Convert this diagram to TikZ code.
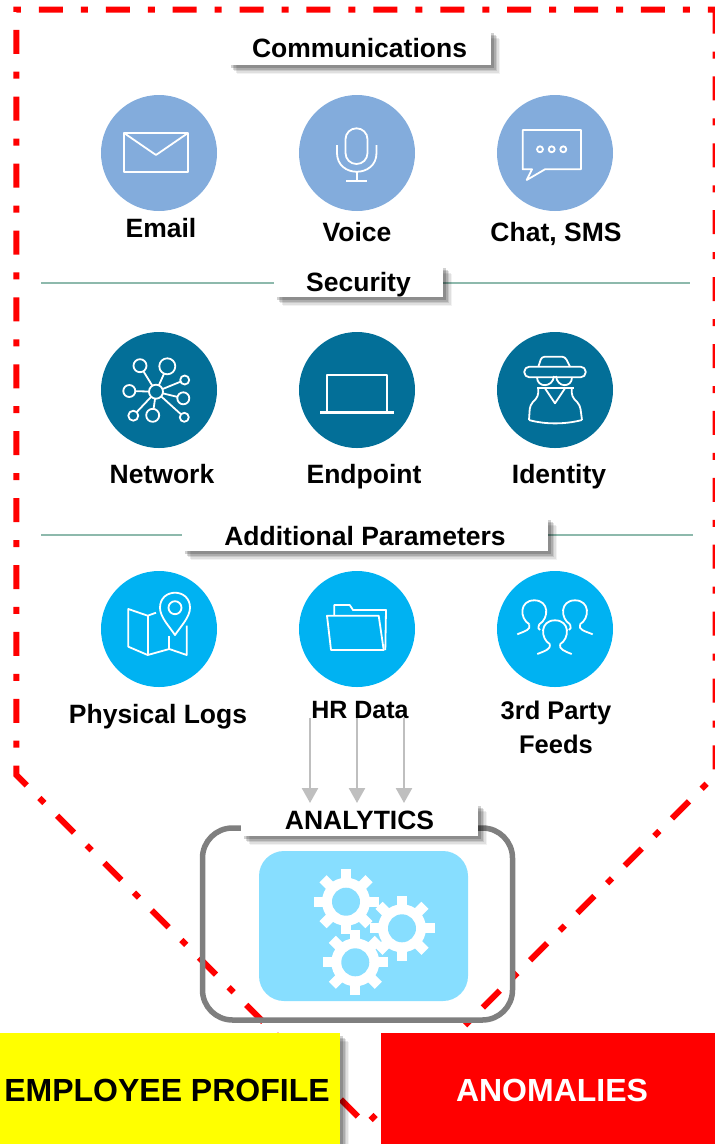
\documentclass[tikz,border=0pt]{standalone}
\usepackage{fontspec}
\setmainfont{Liberation Sans}
\usepackage{xcolor}
\usepackage{tikz}
\usetikzlibrary{arrows.meta, positioning, shadows}
\definecolor{commblue}{HTML}{83ACDC}
\definecolor{secblue}{HTML}{036F98}
\definecolor{addblue}{HTML}{00B2F2}
\definecolor{panelblue}{HTML}{87DEFF}
\definecolor{rulegreen}{HTML}{8DB9AC}
\definecolor{boxgray}{HTML}{7F7F7F}
\definecolor{arrowgray}{HTML}{BFBFBF}
\definecolor{alertred}{HTML}{FF0000}
\definecolor{profileyellow}{HTML}{FFFF00}
\tikzset{
	softshadow/.style={
		drop shadow={shadow xshift=9pt, shadow yshift=-9pt, fill=black, opacity=.05},
		drop shadow={shadow xshift=7.5pt, shadow yshift=-7.5pt, fill=black, opacity=.08},
		drop shadow={shadow xshift=6pt, shadow yshift=-6pt, fill=black, opacity=.1},
		drop shadow={shadow xshift=4.5pt, shadow yshift=-4.5pt, fill=black, opacity=.14},
		drop shadow={shadow xshift=3pt, shadow yshift=-3pt, fill=black, opacity=.18}},
	gearicon/.pic={
		\fill[white] (0,0) circle (24);
		\foreach \a in {0,45,...,315}
			\draw[white, line width=10pt] (0,0) -- (\a:32.5);
		\fill[panelblue] (0,0) circle (14);
	}
}

\begin{document}
\begin{tikzpicture}[x=1pt, y=-1pt, node distance=198pt]
	\tikzstyle{iconcircle}=[circle, minimum size=116pt, inner sep=0pt, outer sep=0pt]
	\tikzstyle{iconline}=[draw=white, line width=1.8pt, line join=round]
	\tikzstyle{heading}=[fill=white, outer sep=0pt, inner sep=0pt, font=\fontsize{26.5}{30}\selectfont\bfseries, text height=19pt, text depth=0pt, softshadow]
	\tikzstyle{caption}=[inner sep=0pt, align=center, font=\fontsize{26.5}{34}\selectfont\bfseries, text height=19pt, text depth=6pt]
	\tikzstyle{result}=[minimum height=111pt, inner sep=0pt, outer sep=0pt, font=\fontsize{32}{36}\selectfont\bfseries, text height=26pt, text depth=0pt]
	\useasboundingbox (0,0) rectangle (715,1144);

	% outer boundary
	\draw[alertred, line width=6pt, miter limit=10, dash pattern=on 24pt off 18pt on 7pt off 17.9pt]
		(715.5,9.5) -- (715.5,774.8) -- (366,1124.5) -- (16.3,775) -- (16.3,9.5) -- cycle;

	% separators
	\coordinate (rule-sec-l) at (41,283);
	\coordinate (rule-sec-r) at (690,283);
	\coordinate (rule-add-l) at (41,535);
	\coordinate (rule-add-r) at (693,535);
	\draw[rulegreen, line width=1.4pt] (rule-sec-l) -- (rule-sec-r);
	\draw[rulegreen, line width=1.4pt] (rule-add-l) -- (rule-add-r);

	\node[heading, minimum width=263pt, minimum height=35pt](communications) at (359.5,47.5) {Communications};
	\node[heading, minimum width=169pt, minimum height=32pt, text height=21pt](security) at (358.5,281) {Security};
	\node[heading, minimum width=366pt, minimum height=34pt, text height=23pt](additional) at (365,534) {Additional Parameters};

	% icon circles
	\node[iconcircle, fill=commblue](email-c) at (159,153) {};
	\node[iconcircle, fill=commblue](voice-c)[right of=email-c] {};
	\node[iconcircle, fill=commblue](chat-c)[right of=voice-c] {};
	\node[iconcircle, fill=secblue](network-c) at (159,390) {};
	\node[iconcircle, fill=secblue](endpoint-c)[right of=network-c] {};
	\node[iconcircle, fill=secblue](identity-c)[right of=endpoint-c] {};
	\node[iconcircle, fill=addblue](logs-c) at (159,629) {};
	\node[iconcircle, fill=addblue](hr-c)[right of=logs-c] {};
	\node[iconcircle, fill=addblue](feeds-c)[right of=hr-c] {};

	% captions
	\node[caption](email)[below of=email-c, node distance=78pt, xshift=2pt] {Email};
	\node[caption](voice)[below of=voice-c, node distance=82pt] {Voice};
	\node[caption](chat)[below of=chat-c, node distance=82pt, xshift=1pt] {Chat, SMS};
	\node[caption](network)[below of=network-c, node distance=87pt, xshift=3pt] {Network};
	\node[caption](endpoint)[below of=endpoint-c, node distance=87pt, xshift=7pt] {Endpoint};
	\node[caption](identity)[below of=identity-c, node distance=87pt, xshift=4pt] {Identity};
	\node[caption](logs)[below of=logs-c, node distance=88pt, xshift=-1pt] {Physical Logs};
	\node[caption, font=\fontsize{25}{34}\selectfont\bfseries](hr)[below of=hr-c, node distance=83pt, xshift=3pt] {HR Data};
	\node[caption, font=\fontsize{25.5}{34}\selectfont\bfseries](feeds)[below of=feeds-c, node distance=117.5pt, xshift=1pt] {3rd Party\\Feeds};

	% email
	\begin{scope}[shift={(email-c.center)}]
		\draw[iconline] (-35,-20) rectangle (29,19);
		\draw[iconline] (-35,-20) -- (-3,2) -- (29,-20);
	\end{scope}
	% voice
	\begin{scope}[shift={(voice-c.center)}]
		\draw[iconline, rounded corners=10.9pt] (-11.5,-24.7) rectangle (10.5,11);
		\draw[iconline] (-20,-8) -- (-20,0) .. controls (-20,25) and (19.5,25) .. (19.5,0) -- (19.5,-8);
		\draw[iconline] (0,18.7) -- (0,27.7);
		\draw[iconline] (-11,27.7) -- (10,27.7);
	\end{scope}
	% chat
	\begin{scope}[shift={(chat-c.center)}]
		\draw[iconline] (-23,16.3) -- (-32.3,16.3) -- (-32.3,-23) -- (26,-23) -- (26,16.3) -- (-10,16.3) -- (-28.3,27) -- cycle;
		\foreach \dotx in {-15,-3.3,8.3}
			\draw[iconline] (\dotx,-3.7) circle (3);
	\end{scope}
	% network
	\begin{scope}[shift={(network-c.center)}]
		\foreach \satx/\saty/\satr in {-19/-24.3/6.5, 8.3/-23.7/8, 25.7/-10/4.5, 24.3/8.3/6, 25.3/27.3/4.5, -6.3/25.3/6.5, -25.7/25.7/5, -29.7/1/6}{
			\draw[iconline] (-3,1.7) -- (\satx,\saty);
			\draw[iconline, fill=secblue] (\satx,\saty) circle (\satr);
		}
		\draw[iconline, fill=secblue] (-3,1.7) circle (7);
	\end{scope}
	% endpoint
	\begin{scope}[shift={(endpoint-c.center)}]
		\draw[iconline] (-30,21) -- (-30,-15) -- (30,-15) -- (30,21);
		\fill[white] (-36.7,21) rectangle (36.7,24.3);
	\end{scope}
	% identity
	\begin{scope}[shift={(identity-c.center)}]
		\draw[iconline, rounded corners=3pt] (-16.7,-23.3) -- (-13.3,-33.3) -- (10,-33.3) -- (15,-23.3);
		\draw[iconline, rounded corners=5pt] (-30.7,-23.3) rectangle (30.7,-12.7);
		\draw[iconline] (-18,-12.7) .. controls (-18,-2) and (-2,-2) .. (-1,-14);
		\draw[iconline] (1,-14) .. controls (2,-2) and (17,-2) .. (17,-12.7);
		\draw[iconline] (-18,-1.7) -- (19,-1.7);
		\draw[iconline] (-10,-1.7) -- (0,13.3) -- (10,-1.7);
		\draw[iconline, rounded corners=4pt] (-16.7,-1.7) -- (-16.7,6.5) -- (-25,15) -- (-26,30);
		\draw[iconline, rounded corners=4pt] (16.7,-1.7) -- (16.7,6.5) -- (25,15) -- (27,30);
		\draw[iconline] (-26,30) .. controls (-10,34.5) and (10,34.5) .. (27,30);
	\end{scope}
	% physical logs
	\begin{scope}[shift={(logs-c.center)}]
		\draw[iconline] (16,6) .. controls (10,-3) and (1,-12) .. (1,-21.3) .. controls (1,-41.3) and (31,-41.3) .. (31,-21.3) .. controls (31,-12) and (22,-3) .. (16,6) -- cycle;
		\draw[iconline] (16,-21.3) circle (6.5);
		\draw[iconline] (-3,-16.3) -- (-11.3,-13.3) -- (-30.7,-20) -- (-30.7,17.7) -- (-11.3,26) -- (10.3,20) -- (27.7,26) -- (27.7,-3.3);
		\draw[iconline] (-11.3,-13.3) -- (-11.3,26);
		\draw[iconline] (10.3,20) -- (10.3,7);
	\end{scope}
	% hr data
	\begin{scope}[shift={(hr-c.center)}]
		\draw[iconline] (-22.7,-14) -- (-22.7,-24) -- (-7.3,-24) -- (-4,-19) -- (29,-19) -- (28.3,21);
		\draw[iconline] (-30,-13.3) -- (21.7,-13.3) -- (26.7,21) -- (-26,21) -- cycle;
	\end{scope}
	% feeds
	\begin{scope}[shift={(feeds-c.center)}]
		\foreach \headx/\heady in {-20.7/-15.7, 20/-15.7, 0/4.3}
			\draw[iconline, shift={(\headx,\heady)}] (-5,11) .. controls (-15,5) and (-15,-13) .. (0,-13) .. controls (15,-13) and (15,5) .. (5,11);
		\draw[iconline] (-37.7,5.3) .. controls (-30,2) and (-24,1) .. (-25.7,-4.7);
		\draw[iconline] (-15.7,-4.7) .. controls (-17,-1) and (-17,0) .. (-15,1);
		\draw[iconline] (15,-4.7) .. controls (16,-1) and (16,0) .. (14,1);
		\draw[iconline] (25,-4.7) .. controls (23,1) and (30,2) .. (37.7,5.3);
		\draw[iconline] (-17.7,25) .. controls (-10,22) and (-4,20) .. (-5,15.3);
		\draw[iconline] (5,15.3) .. controls (4,20) and (9,22) .. (16.7,25);
	\end{scope}

	% analytics
	\node[draw=boxgray, line width=5.5pt, rounded corners=30pt, minimum width=310pt, minimum height=192pt, inner sep=0pt](analytics-box) at (357.5,924) {};
	\node[fill=panelblue, rounded corners=25pt, minimum width=209pt, minimum height=150pt, inner sep=0pt](panel) at (363.5,926) {};
	\pic at (346,901.7) {gearicon};
	\pic at (402,928.3) {gearicon};
	\pic at (355.3,962.3) {gearicon};
	\node[heading, minimum width=237pt, minimum height=33pt](analytics) at (359.5,819.5) {ANALYTICS};

	% feeds into analytics
	\coordinate (feed-a) at (310,718);
	\coordinate (feed-b) at (357,718);
	\coordinate (feed-c) at (404,718);
	\foreach \feed in {feed-a, feed-b, feed-c}
		\draw[arrowgray, line width=2.5pt, -{Triangle[length=15pt, width=16pt]}] (\feed) -- (\feed |- analytics.north);

	% results
	\node[result, fill=profileyellow, minimum width=340pt, softshadow](profile) at (170,1088.5) {EMPLOYEE PROFILE\hspace*{6pt}};
	\node[result, fill=alertred, text=white, minimum width=334pt](anomalies) at (548,1088.5) {\hspace*{8pt}ANOMALIES};
\end{tikzpicture}
\end{document}
